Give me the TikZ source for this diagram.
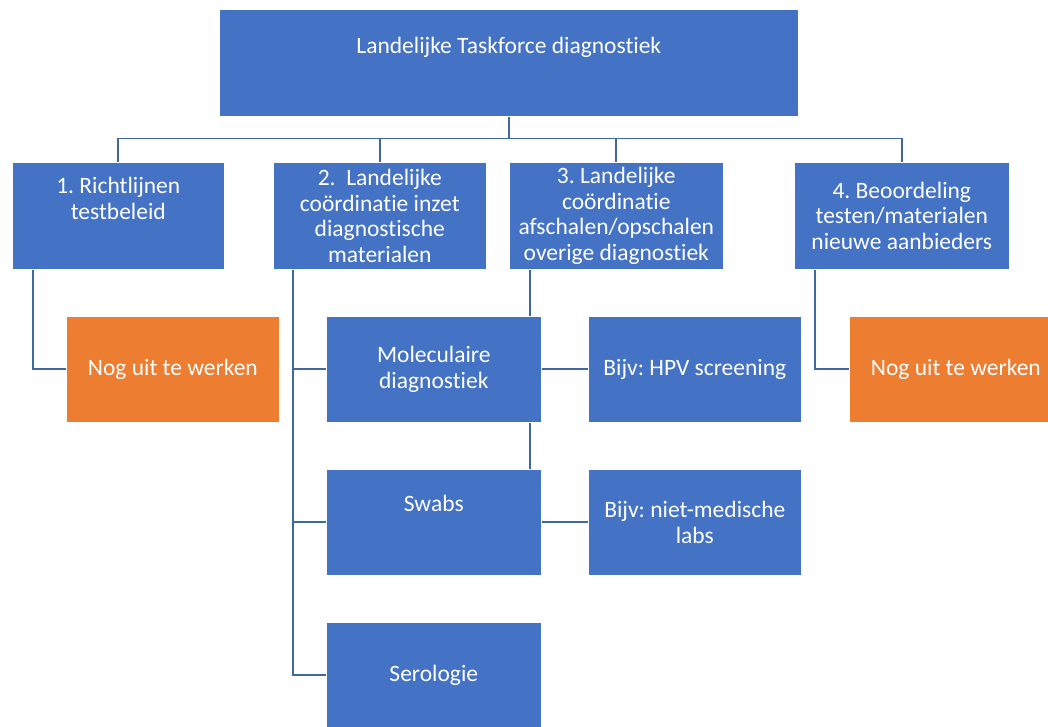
\documentclass[tikz,border=0pt]{standalone}
\usepackage{fontspec}
\setmainfont{Carlito}[RawFeature={-liga;-clig;-calt;-dlig}]
\frenchspacing
\definecolor{boxblue}{RGB}{68,114,196}
\definecolor{boxorange}{RGB}{237,125,49}
\definecolor{linkblue}{RGB}{66,104,160}
\newcommand{\bt}[4]{\parbox[c][#1][c]{#2}{\centering #4\par\vspace{#3}}}
\tikzset{
  box/.style={fill=boxblue, draw=white, line width=0.6pt, text=white, inner sep=0pt, anchor=north west,
    font=\fontsize{23.5}{25.5}\selectfont},
  obox/.style={box, fill=boxorange},
  link/.style={draw=linkblue, line width=1.7pt}
}
\begin{document}
\begin{tikzpicture}[x=1pt,y=-1pt]
\clip (0,0) rectangle (1048,726);
\fill[white] (0,0) rectangle (1048,726);
% level 0
\node[box] (top) at (219,9) {\bt{107pt}{579pt}{31pt}{Landelijke Taskforce diagnostiek}};
% level 1
\node[box] (b1) at (12,162) {\bt{107pt}{212pt}{35pt}{1. Richtlijnen\\testbeleid}};
\node[box] (b2) at (273,162) {\bt{107pt}{213pt}{0pt}{2.\ \ Landelijke\\co\"ordinatie inzet\\diagnostische\\materialen}};
\node[box] (b3) at (509,162) {\bt{107pt}{214pt}{0pt}{3. Landelijke\\co\"ordinatie\\afschalen/opschalen\\overige diagnostiek}};
\node[box] (b4) at (794,162) {\bt{107pt}{215pt}{0pt}{4. Beoordeling\\testen/materialen\\nieuwe aanbieders}};
% level 2
\node[obox] (o1) at (66,316) {\bt{106pt}{213pt}{0pt}{Nog uit te werken}};
\node[box] (mol) at (326,316) {\bt{106pt}{215pt}{0pt}{Moleculaire\\diagnostiek}};
\node[box] (hpv) at (588,316) {\bt{106pt}{213pt}{0pt}{Bijv: HPV screening}};
\node[obox] (o2) at (849,316) {\bt{106pt}{213pt}{0pt}{Nog uit te werken}};
\node[box] (sw) at (326,469) {\bt{106pt}{215pt}{38pt}{Swabs}};
\node[box] (nm) at (588,469) {\bt{106pt}{213pt}{0pt}{Bijv: niet-medische\\labs}};
\node[box] (sero) at (326,622) {\bt{106pt}{215pt}{0pt}{Serologie}};
% connectors
\draw[link] (top.south) -- ++(0,22) coordinate (hub);
\draw[link] (hub) -| (b1.north);
\draw[link] (hub) -| (b2.north);
\draw[link] (hub) -| (b3.north);
\draw[link] (hub) -| (b4.north);
\draw[link] ([xshift=21pt]b1.south west) |- (o1.west);
\draw[link] ([xshift=20pt]b2.south west) coordinate (c2) |- (mol.west);
\draw[link] (c2) |- (sw.west);
\draw[link] (c2) |- (sero.west);
\draw[link] ([xshift=21pt]b3.south west) coordinate (c3) -- (c3 |- mol.north);
\draw[link] (c3 |- mol.south) -- (c3 |- sw.north);
\draw[link] (mol.east) -- (hpv.west);
\draw[link] (sw.east) -- (nm.west);
\draw[link] ([xshift=21pt]b4.south west) |- (o2.west);
\end{tikzpicture}
\end{document}
